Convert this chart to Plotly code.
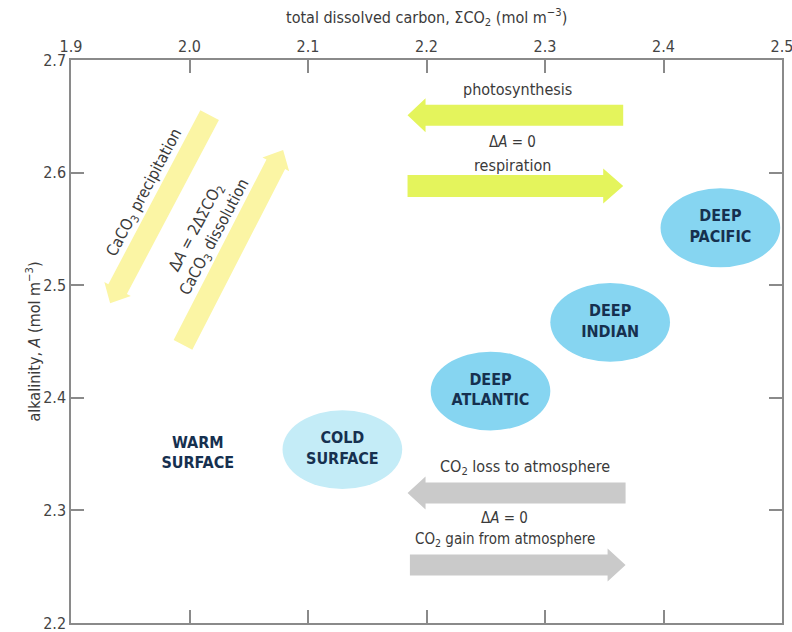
import math
import plotly.graph_objects as go

# ---------------- data ----------------
water_masses = ["WARM<br>SURFACE", "COLD<br>SURFACE", "DEEP<br>ATLANTIC", "DEEP<br>INDIAN", "DEEP<br>PACIFIC"]
dic = [2.007, 2.129, 2.254, 2.355, 2.448]          # total dissolved carbon (mol m-3)
alk = [2.350, 2.354, 2.406, 2.467, 2.551]          # alkalinity (mol m-3)

process = ["photosynthesis", "respiration", "co2_loss", "co2_gain", "caco3_precip", "caco3_diss"]
proc_x0 = [2.366, 2.184, 2.368, 2.186, 2.017, 1.9945]
proc_y0 = [2.651, 2.588, 2.3155, 2.2515, 2.651, 2.447]
proc_x1 = [2.184, 2.366, 2.184, 2.368, 1.933, 2.079]
proc_y1 = [2.651, 2.588, 2.3155, 2.2515, 2.484, 2.620]

x_ticks = [1.9, 2.0, 2.1, 2.2, 2.3, 2.4, 2.5]
y_ticks = [2.2, 2.3, 2.4, 2.5, 2.6, 2.7]

# ---------------- layout geometry ----------------
W, H = 792, 632
ML, MR, MT, MB = 71, 10, 60, 9
XR = [1.9, 2.5]
YR = [2.2, 2.7]
sx = (W - ML - MR) / (XR[1] - XR[0])   # px per data unit
sy = (H - MT - MB) / (YR[1] - YR[0])

FONT = "Liberation Sans Narrow, Arial Narrow, DejaVu Sans Condensed, sans-serif"
TXT = "#3a3a3a"
NAVY = "#16304f"
AXC = "#8a8a8a"


def arrow_path(x0, y0, x1, y1, bh, hh, hl):
    X0, Y0, X1, Y1 = x0 * sx, y0 * sy, x1 * sx, y1 * sy
    dx, dy = X1 - X0, Y1 - Y0
    L = math.hypot(dx, dy)
    ux, uy = dx / L, dy / L
    nx, ny = -uy, ux
    bx, by = X1 - ux * hl, Y1 - uy * hl
    pts = [(X0 + nx * bh, Y0 + ny * bh), (bx + nx * bh, by + ny * bh),
           (bx + nx * hh, by + ny * hh), (X1, Y1),
           (bx - nx * hh, by - ny * hh), (bx - nx * bh, by - ny * bh),
           (X0 - nx * bh, Y0 - ny * bh)]
    s = "M " + " L ".join(f"{px / sx:.5f},{py / sy:.5f}" for px, py in pts) + " Z"
    return s


arrow_colors = ["#e4f45c", "#e4f45c", "#cacaca", "#cacaca", "#fbf5a4", "#fbf5a4"]
arrow_dims = [(10.5, 17, 18), (11, 17.5, 20), (10.5, 16.5, 18), (10.5, 16.5, 18),
              (10.5, 15, 16), (10.5, 15, 16)]

shapes = []
for i in range(len(process)):
    bh, hh, hl = arrow_dims[i]
    shapes.append(dict(type="path", xref="x", yref="y",
                       path=arrow_path(proc_x0[i], proc_y0[i], proc_x1[i], proc_y1[i], bh, hh, hl),
                       fillcolor=arrow_colors[i], line=dict(width=0), layer="below"))

ell_fill = [None, "#c4ecf7", "#86d5f1", "#86d5f1", "#86d5f1"]
ell_rx = 0.0505
ell_ry = 0.0350
for i in range(len(water_masses)):
    if ell_fill[i] is None:
        continue
    shapes.append(dict(type="circle", xref="x", yref="y",
                       x0=dic[i] - ell_rx, x1=dic[i] + ell_rx,
                       y0=alk[i] - ell_ry, y1=alk[i] + ell_ry,
                       fillcolor=ell_fill[i], line=dict(width=0), layer="below"))

fig = go.Figure()
fig.add_trace(go.Scatter(
    x=dic, y=alk, mode="text", text=[f"<b>{t}</b>" for t in water_masses],
    textfont=dict(family=FONT, size=16, color=NAVY),
    textposition="middle center", hoverinfo="skip", showlegend=False))

ann = []


def label(x, y, text, angle=0, size=16, color=TXT):
    ann.append(dict(x=x, y=y, xref="x", yref="y", text=text, showarrow=False,
                    textangle=angle, font=dict(family=FONT, size=size, color=color),
                    xanchor="center", yanchor="middle"))


label(2.2772, 2.6734, "photosynthesis")
label(2.2722, 2.6272, "Δ<i>A</i> = 0", size=15)
label(2.2722, 2.6067, "respiration")
label(2.2831, 2.3377, "CO<sub>2</sub> loss to atmosphere")
label(2.2662, 2.2930, "Δ<i>A</i> = 0", size=15)
label(2.2662, 2.2745, "CO<sub>2</sub> gain from atmosphere", size=15)
label(1.9624, 2.5819, "CaCO<sub>3</sub> precipitation", angle=-62)
label(2.0139, 2.5472, "Δ<i>A</i> = 2ΔΣCO<sub>2</sub><br>CaCO<sub>3</sub> dissolution", angle=-62)

ph = H - MT - MB
pw = W - ML - MR
ann.append(dict(x=(426 - ML) / pw, y=1 + (MT - 18) / ph, xref="paper", yref="paper",
                text="total dissolved carbon, ΣCO<sub>2</sub> (mol m<sup>−3</sup>)",
                showarrow=False, font=dict(family=FONT, size=16, color=TXT),
                xanchor="center", yanchor="middle"))
ann.append(dict(x=(34 - ML) / pw, y=0.5, xref="paper", yref="paper",
                text="alkalinity, <i>A</i> (mol m<sup>−3</sup>)", textangle=-90,
                showarrow=False, font=dict(family=FONT, size=16, color=TXT),
                xanchor="center", yanchor="middle"))

axis_common = dict(showgrid=False, zeroline=False, showline=True, linecolor=AXC, linewidth=1.5,
                   ticks="inside", ticklen=13, tickcolor=AXC, tickwidth=1.5, mirror="ticks",
                   tickfont=dict(family=FONT, size=16, color="#444444"), tickformat=".1f",
                   ticklabeloverflow="allow", fixedrange=True)

fig.update_layout(
    width=W, height=H, margin=dict(l=ML, r=MR, t=MT, b=MB, autoexpand=False),
    paper_bgcolor="white", plot_bgcolor="white",
    xaxis=dict(range=XR, side="top", tickvals=x_ticks, **axis_common),
    yaxis=dict(range=YR, tickvals=y_ticks, **axis_common),
    shapes=shapes, annotations=ann, showlegend=False)

fig.write_html("out.html", config={"displayModeBar": False},
               post_script="document.body.style.margin='0';document.body.style.overflow='hidden';")
